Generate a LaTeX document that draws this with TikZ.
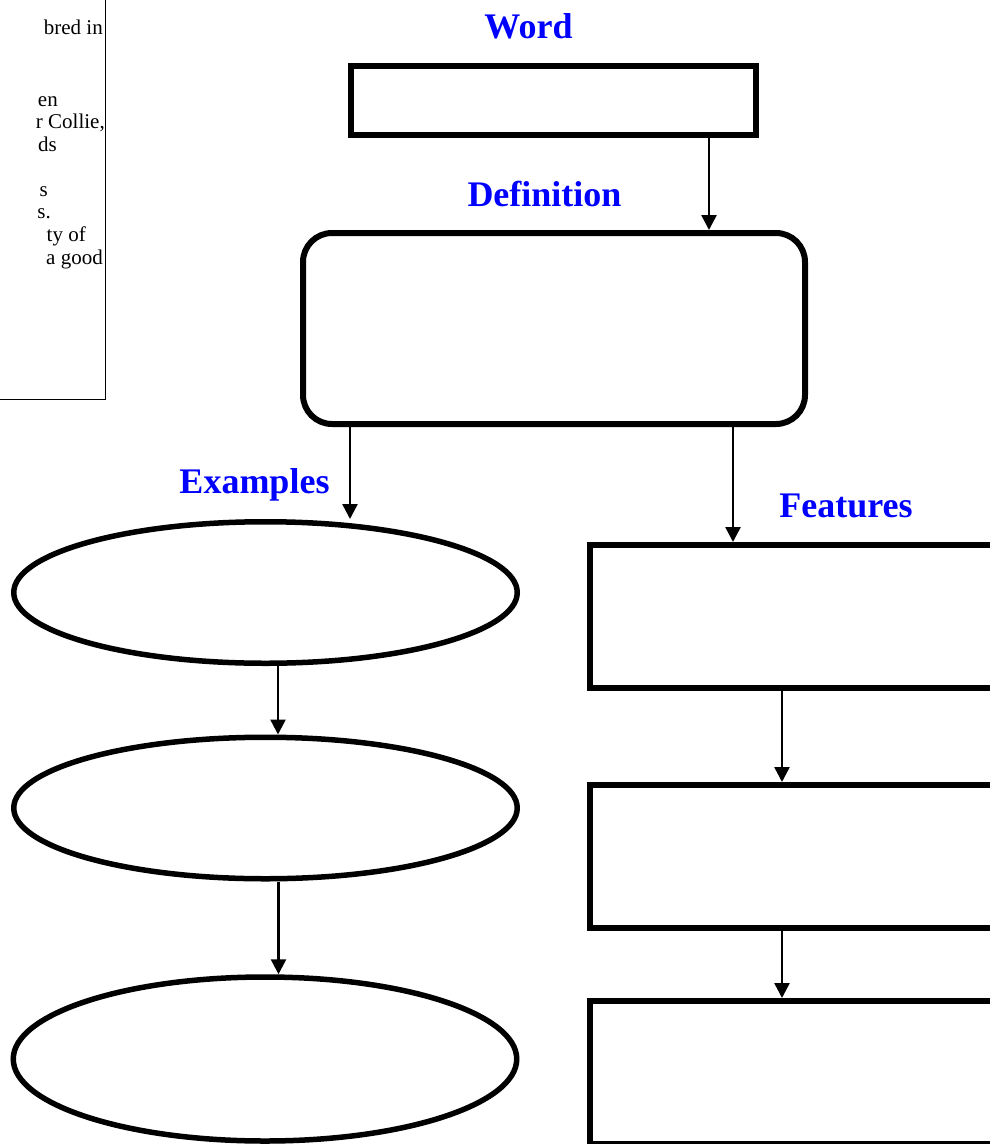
\documentclass[tikz,border=0pt]{standalone}
\usepackage{fontspec}
\setmainfont{Liberation Serif}
\usetikzlibrary{arrows.meta,shapes.geometric}
\tikzset{
  heading/.style={text=blue,font=\bfseries\fontsize{36}{40}\selectfont,anchor=base,inner sep=0pt},
  notetext/.style={font=\fontsize{21}{24}\selectfont,anchor=base east,inner sep=0pt},
  frame/.style={draw,line width=6pt,inner sep=0pt},
  oval/.style={ellipse,draw,line width=5.5pt,inner sep=0pt,minimum width=503.5pt},
  flow/.style={-{Triangle[width=15pt,length=15pt]},line width=2.5pt}
}
\begin{document}
\begin{tikzpicture}[x=1pt,y=-1pt]
		\useasboundingbox (0,0) rectangle (990,1144);
		\clip (0,0) rectangle (990,1144);
		% note box, cut off by the page edge
		\node (note) [draw,line width=1.5pt,inner sep=0pt,minimum width=306.5pt,minimum height=499.5pt] at (-48,149.5) {};
		\begin{scope}
			\clip (36,0) rectangle (104,399);
			\foreach \i/\xx/\yy/\txt in {1/103/34/{bred in},2/58/106/en,3/105/128/{r Collie,},4/57/151/ds,5/48/196/s,6/51/218/s.,7/86/241/{ty of},8/103/264/{a good}}
				\node (line\i) [notetext] at (\xx,\yy) {\txt};
		\end{scope}
		% headings
		\node (wordlbl) [heading] at (528.5,38) {Word};
		\node (deflbl) [heading] at (544.5,206) {Definition};
		\node (exlbl) [heading] at (254.5,493) {Examples};
		\node (featlbl) [heading] at (846,517) {Features};
		% boxes
		\node (word) [frame,minimum width=405pt,minimum height=69pt] at (553.5,100.5) {};
		\node (def) [frame,rounded corners=29pt,minimum width=502pt,minimum height=191pt] at (554,328.5) {};
		\node (ex1) [oval,minimum height=141.5pt] at (265.5,592.5) {};
		\node (ex2) [oval,minimum height=141.5pt] at (265.5,808) {};
		\node (ex3) [oval,minimum height=164pt] at (265,1059) {};
		\node (feat1) [frame,minimum width=420pt,minimum height=143pt] at (800,616.5) {};
		\node (feat2) [frame,minimum width=420pt,minimum height=143pt] at (800,856.5) {};
		\node (feat3) [frame,minimum width=420pt,minimum height=143pt] at (800,1072.5) {};
		% arrows
		\draw[flow] ([xshift=155.5pt]word.south) -- ([xshift=155.5pt]word.south |- def.north);
		\draw[flow] ([xshift=-204pt]def.south) -- ([xshift=-204pt]def.south |- ex1.north);
		\draw[flow] ([xshift=179pt]def.south) -- ([xshift=179pt]def.south |- feat1.north);
		\draw[flow] ([xshift=12.5pt]ex1.south) -- ([xshift=12.5pt]ex1.south |- ex2.north);
		\draw[flow] ([xshift=13pt]ex2.south) -- ([xshift=13pt]ex2.south |- ex3.north);
		\draw[flow] ([xshift=-18pt]feat1.south) -- ([xshift=-18pt]feat1.south |- feat2.north);
		\draw[flow] ([xshift=-18pt]feat2.south) -- ([xshift=-18pt]feat2.south |- feat3.north);
\end{tikzpicture}
\end{document}
